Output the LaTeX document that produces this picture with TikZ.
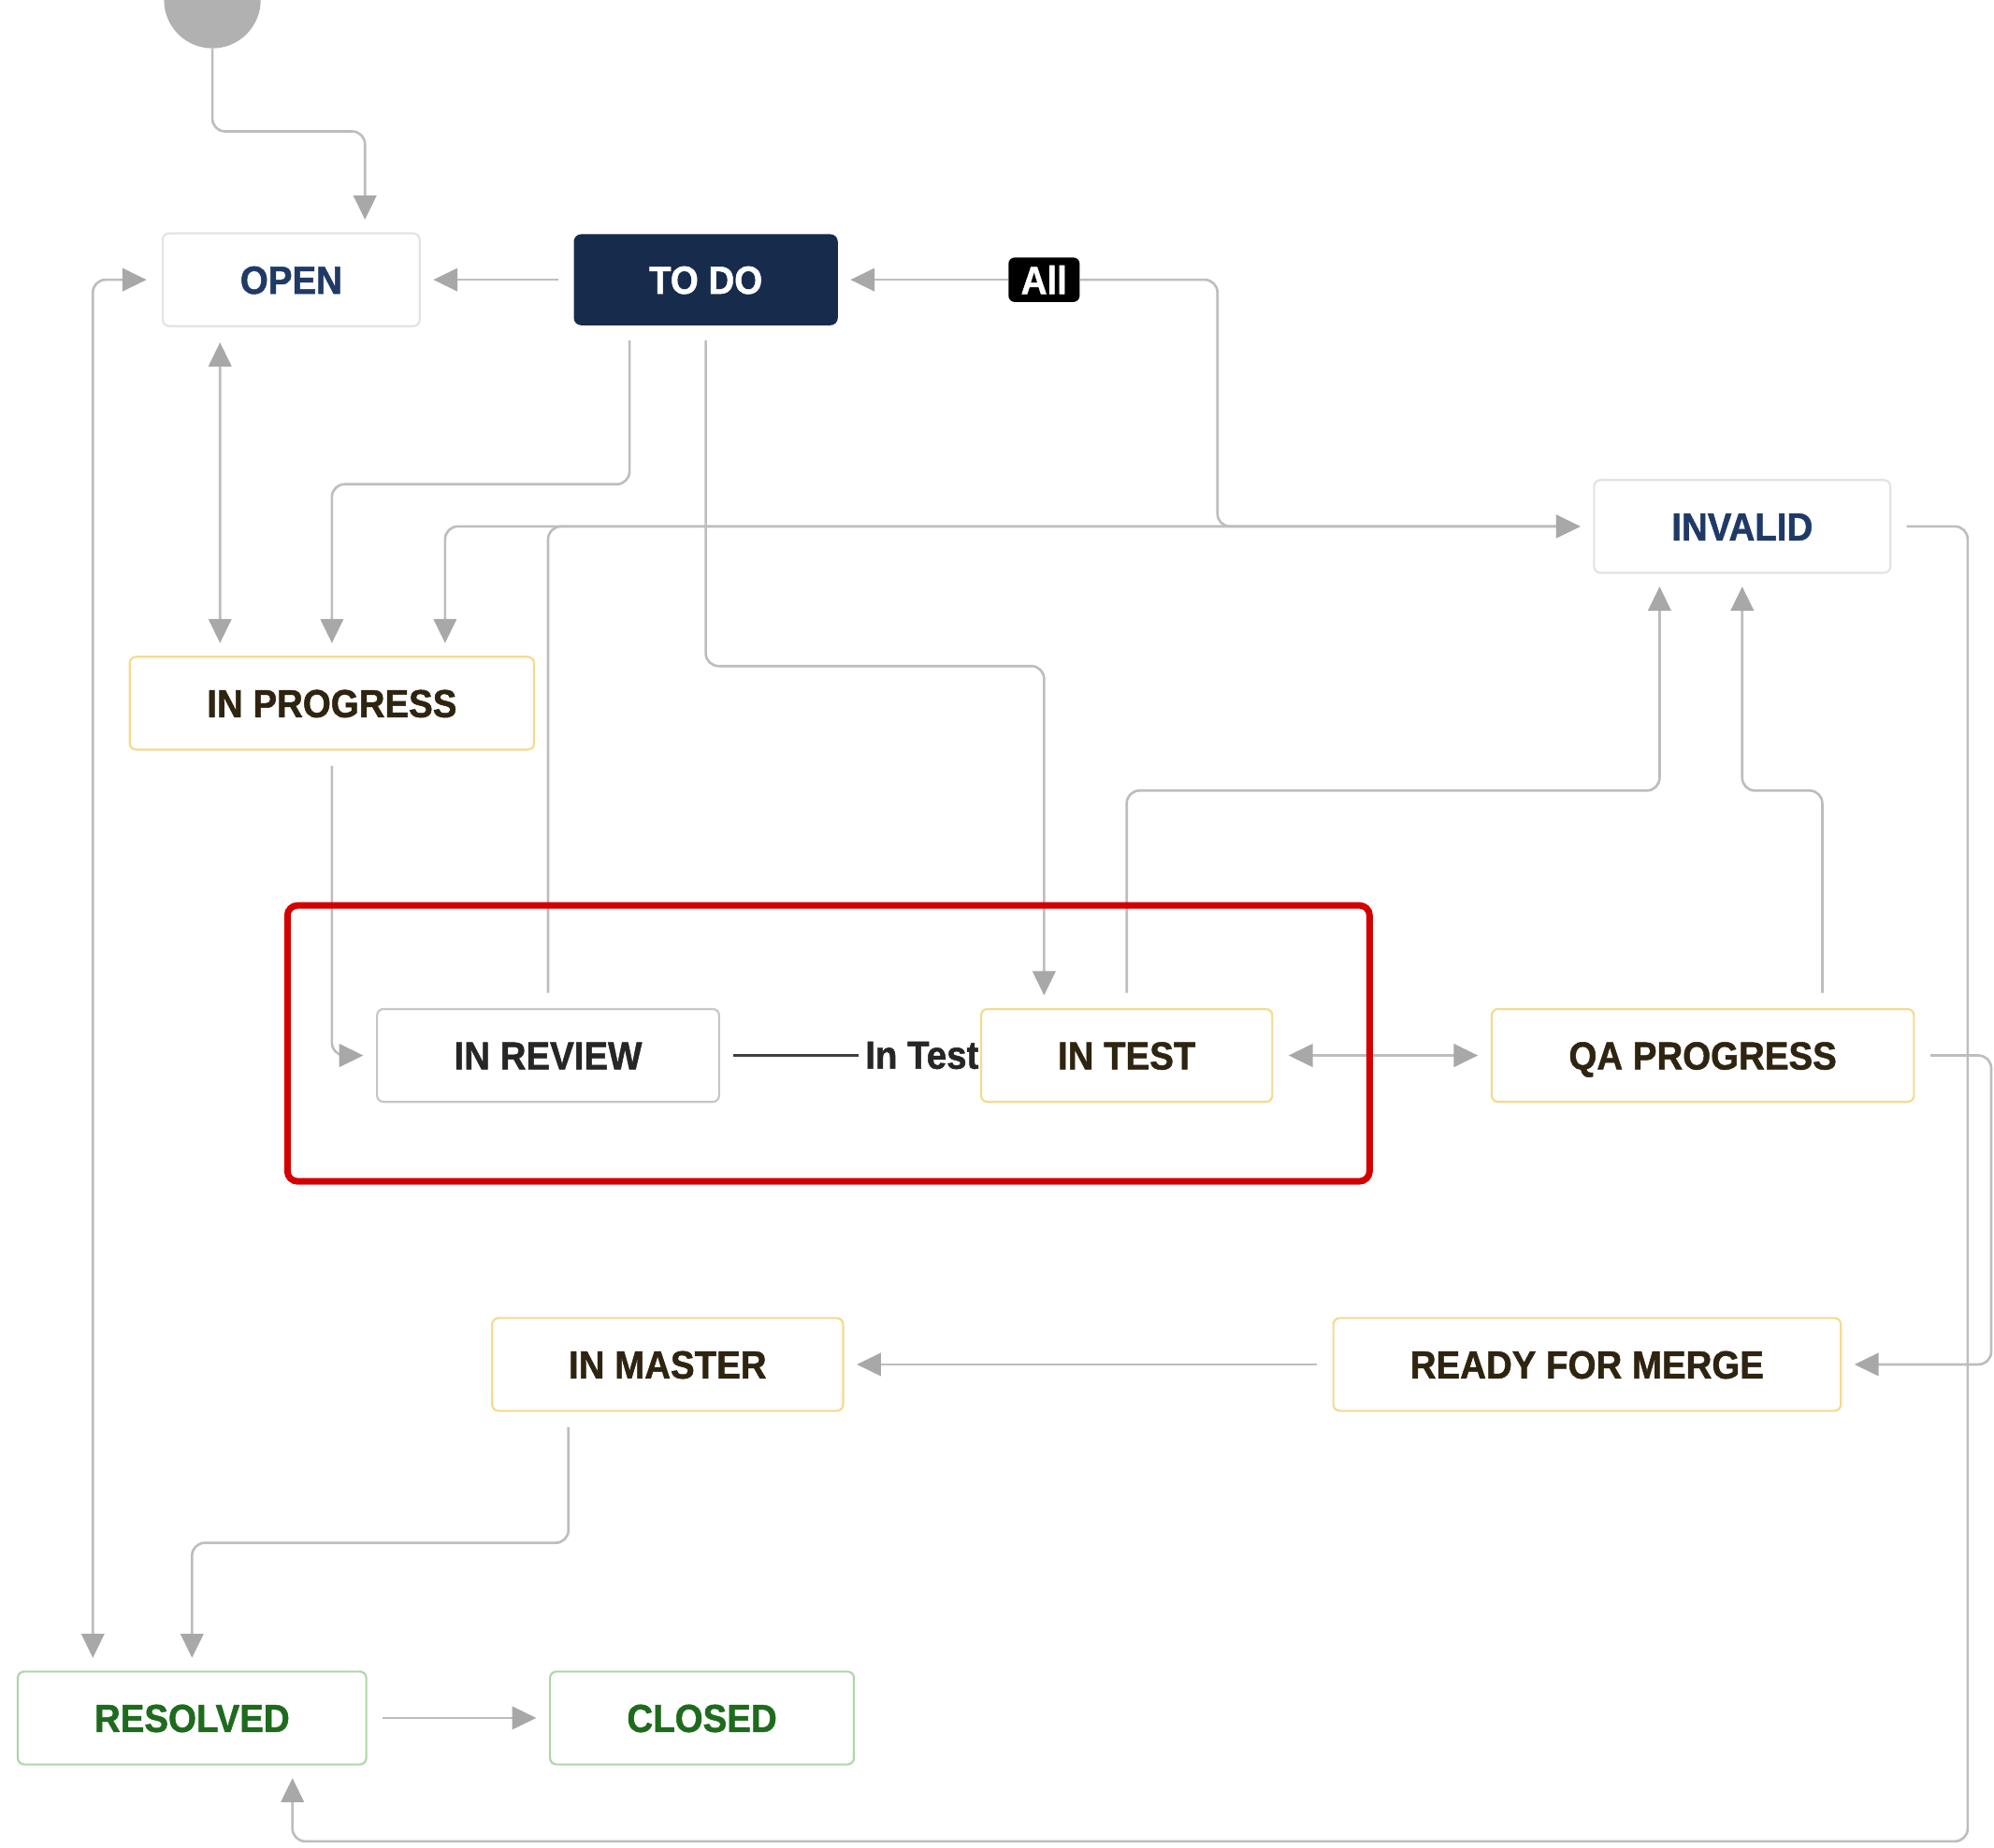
\documentclass[tikz,border=0pt]{standalone}
\usepackage{fontspec}
\setmainfont{Liberation Sans}[FakeStretch=0.92, BoldFeatures={FakeBold=1.2}]
\usetikzlibrary{arrows.meta}
\definecolor{navytext}{HTML}{1F3A66}
\definecolor{todofill}{HTML}{172B4D}
\definecolor{browntext}{HTML}{2E2410}
\definecolor{greentext}{HTML}{1E6B1E}
\definecolor{lightborder}{HTML}{E1E3E8}
\definecolor{yellowborder}{HTML}{F6D98E}
\definecolor{grayborder}{HTML}{C6C6C6}
\definecolor{greenborder}{HTML}{AFD6A6}
\definecolor{linegray}{HTML}{BDBDBD}
\definecolor{tipgray}{HTML}{A8A8A8}
\definecolor{framered}{HTML}{D40000}
\tikzset{
  status/.style={rectangle, rounded corners=0.1cm, minimum height=1.46cm, line width=0.9pt,
    fill=white, text height=12.5pt, text depth=0pt, font=\bfseries\fontsize{17.5}{20}\selectfont},
  statuslight/.style={status, draw=lightborder, text=navytext},
  statusdark/.style={status, draw=todofill, fill=todofill, text=white, minimum height=1.4cm},
  statusyellow/.style={status, draw=yellowborder, text=browntext},
  statusgray/.style={status, draw=grayborder, text=black!85},
  statusgreen/.style={status, draw=greenborder, text=greentext},
  startdot/.style={circle, fill=tipgray!90, minimum size=1.52cm, inner sep=0pt},
  allbadge/.style={rectangle, rounded corners=0.1cm, fill=black, text=white, minimum width=1.12cm,
    minimum height=0.7cm, inner sep=0pt, font=\bfseries\fontsize{17.5}{20}\selectfont},
  edgelabel/.style={inner sep=0.1cm, text=black!85, font=\bfseries\fontsize{17.5}{20}\selectfont},
  gtip/.tip={Triangle[length=0.38cm, width=0.36cm, color=tipgray]},
  link/.style={draw=linegray, line width=1.1pt, rounded corners=0.2cm,
    shorten <=0.24cm, shorten >=0.2cm, -gtip},
  biway/.style={link, gtip-gtip},
  highlight/.style={draw=framered, line width=2.9pt, rounded corners=0.16cm}
}
\newcommand{\statusbox}[5]{\node[#1, minimum width=#4*0.02cm] (#2) at #3 {#5};}

\begin{document}
\begin{tikzpicture}[x=0.02cm, y=-0.02cm]
  \useasboundingbox (0,0) rectangle (1568,1453);
  \clip (0,0) rectangle (1568,1453);
  % start
  \node[startdot] (start) at (167,0) {};
  % top row
  \statusbox{statuslight}{open}{(229,220)}{202}{OPEN}
  \statusbox{statusdark}{todo}{(555,220)}{206}{TO DO}
  \node[allbadge] (all) at (821,220) {All};
  \statusbox{statuslight}{invalid}{(1370,414)}{233}{INVALID}
  % middle rows
  \statusbox{statusyellow}{inprogress}{(261,553)}{318}{IN PROGRESS}
  \statusbox{statusgray}{inreview}{(431,830)}{269}{IN REVIEW}
  \statusbox{statusyellow}{intest}{(886,830)}{229}{IN TEST}
  \statusbox{statusyellow}{qaprogress}{(1339,830)}{332}{QA PROGRESS}
  \statusbox{statusyellow}{inmaster}{(525,1073)}{276}{IN MASTER}
  \statusbox{statusyellow}{readymerge}{(1248,1073)}{399}{READY FOR MERGE}
  % bottom row
  \statusbox{statusgreen}{resolved}{(151,1351)}{274}{RESOLVED}
  \statusbox{statusgreen}{closed}{(552,1351)}{239}{CLOSED}
  \node[edgelabel] (intestlabel) at (725,830) {In Test};
  % transitions
  \draw[link, shorten <=0pt] (start.south) -- ++(0,65) -| ([xshift=1.16cm]open.north);
  \draw[link] (todo.west) -- (open.east);
  \draw[link, shorten <=0pt] (all.west) -- (todo.east);
  \draw[link, shorten <=0pt] (all.east) -- ++(108,0) |- (invalid.west);
  \draw[link] (invalid.west) -| ([xshift=1.78cm]inprogress.north);
  \draw[link] (inreview.north) |- (invalid.west);
  \draw[biway] ([xshift=-1.12cm]open.south) -- ([xshift=-1.76cm]inprogress.north);
  \draw[link] ([xshift=-1.2cm]todo.south) -- ++(0,125) -| (inprogress.north);
  \draw[link] (todo.south) -- ++(0,268) -| ([xshift=-1.3cm]intest.north);
  \draw[link] (inprogress.south) |- (inreview.west);
  \draw[draw=black!75, line width=1.1pt, shorten <=0.2cm] (inreview.east) -- (intestlabel.west);
  \draw[biway] (intest.east) -- (qaprogress.west);
  \draw[link] (intest.north) -- ++(0,-171) -| ([xshift=-1.3cm]invalid.south);
  \draw[link] ([xshift=1.88cm]qaprogress.north) -- ++(0,-171) -| (invalid.south);
  \draw[link] (qaprogress.east) -- ++(60,0) |- (readymerge.east);
  \draw[link] (readymerge.west) -- (inmaster.east);
  \draw[link] ([xshift=-1.56cm]inmaster.south) -- ++(0,103) -| (resolved.north);
  \draw[biway] (open.west) -| ([xshift=-1.56cm]resolved.north);
  \draw[link] (resolved.east) -- (closed.west);
  \draw[link] (invalid.east) -- ++(60,0) -- ++(0,1034) -| ([xshift=1.58cm]resolved.south);
  % highlight
  \draw[highlight] (226,712) rectangle (1077,929);
\end{tikzpicture}
\end{document}
